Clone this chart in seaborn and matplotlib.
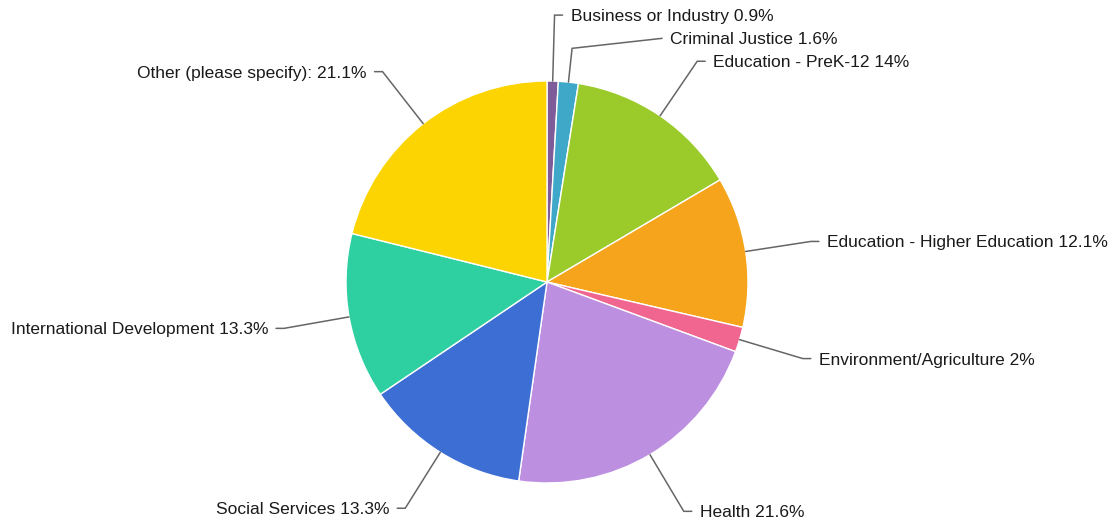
import numpy as np
import matplotlib
matplotlib.use("Agg")
import matplotlib.pyplot as plt
import seaborn as sns

sns.set_theme(style="white")
plt.rcParams["font.family"] = ["Liberation Sans", "DejaVu Sans"]

# Survey responses by sector (percent of respondents)
sectors = [
    "Business or Industry",
    "Criminal Justice",
    "Education - PreK-12",
    "Education - Higher Education",
    "Environment/Agriculture",
    "Health",
    "Social Services",
    "International Development",
    "Other (please specify):",
]
shares = [0.9, 1.6, 14, 12.1, 2, 21.6, 13.3, 13.3, 21.1]
colors = ["#7d5c99", "#3fa7c7", "#9acb2a", "#f5a41b", "#f06690",
          "#bc8fe0", "#3c6ed4", "#2ecfa0", "#fbd402"]

W, H = 1111, 522
fig = plt.figure(figsize=(W / 100, H / 100), dpi=100)
ax = fig.add_axes([0, 0, 1, 1])

cx, cy, R = 547, 522 - 282, 201
ax.pie(shares, colors=colors, startangle=90, counterclock=False,
       center=(cx, cy), radius=R, frame=True,
       wedgeprops=dict(edgecolor="white", linewidth=1.0))
ax.set_xlim(0, W)
ax.set_ylim(0, H)
ax.set_aspect("equal")
ax.axis("off")

# Leader-line geometry: radial segment, then a short horizontal tail
ext, tail, gap = 66, 8, 8
overrides = {"Criminal Justice": dict(ext=34, end=(90, 10))}

total = sum(shares)
cum = np.cumsum([0] + shares[:-1])
for name, val, start in zip(sectors, shares, cum):
    theta = np.deg2rad((start + val / 2) / total * 360)
    ux, uy = np.sin(theta), np.cos(theta)
    side = 1 if ux >= 0 else -1
    o = overrides.get(name, {})
    e = o.get("ext", ext)
    px, py = cx + R * ux, cy + R * uy
    ex, ey = cx + (R + e) * ux, cy + (R + e) * uy
    if "end" in o:
        tx, ty = ex + o["end"][0], ey + o["end"][1]
    else:
        tx, ty = ex + side * tail, ey
    ax.plot([px, ex, tx], [py, ey, ty], color="#666666", lw=1.1,
            solid_joinstyle="miter", zorder=3)
    label = f"{name} {val:g}%"
    ax.text(tx + side * gap, ty - 1.5, label, ha="left" if side > 0 else "right",
            va="center", fontsize=12.5, color="#1a1a1a")

fig.savefig("out.png", dpi=100, facecolor="white")
